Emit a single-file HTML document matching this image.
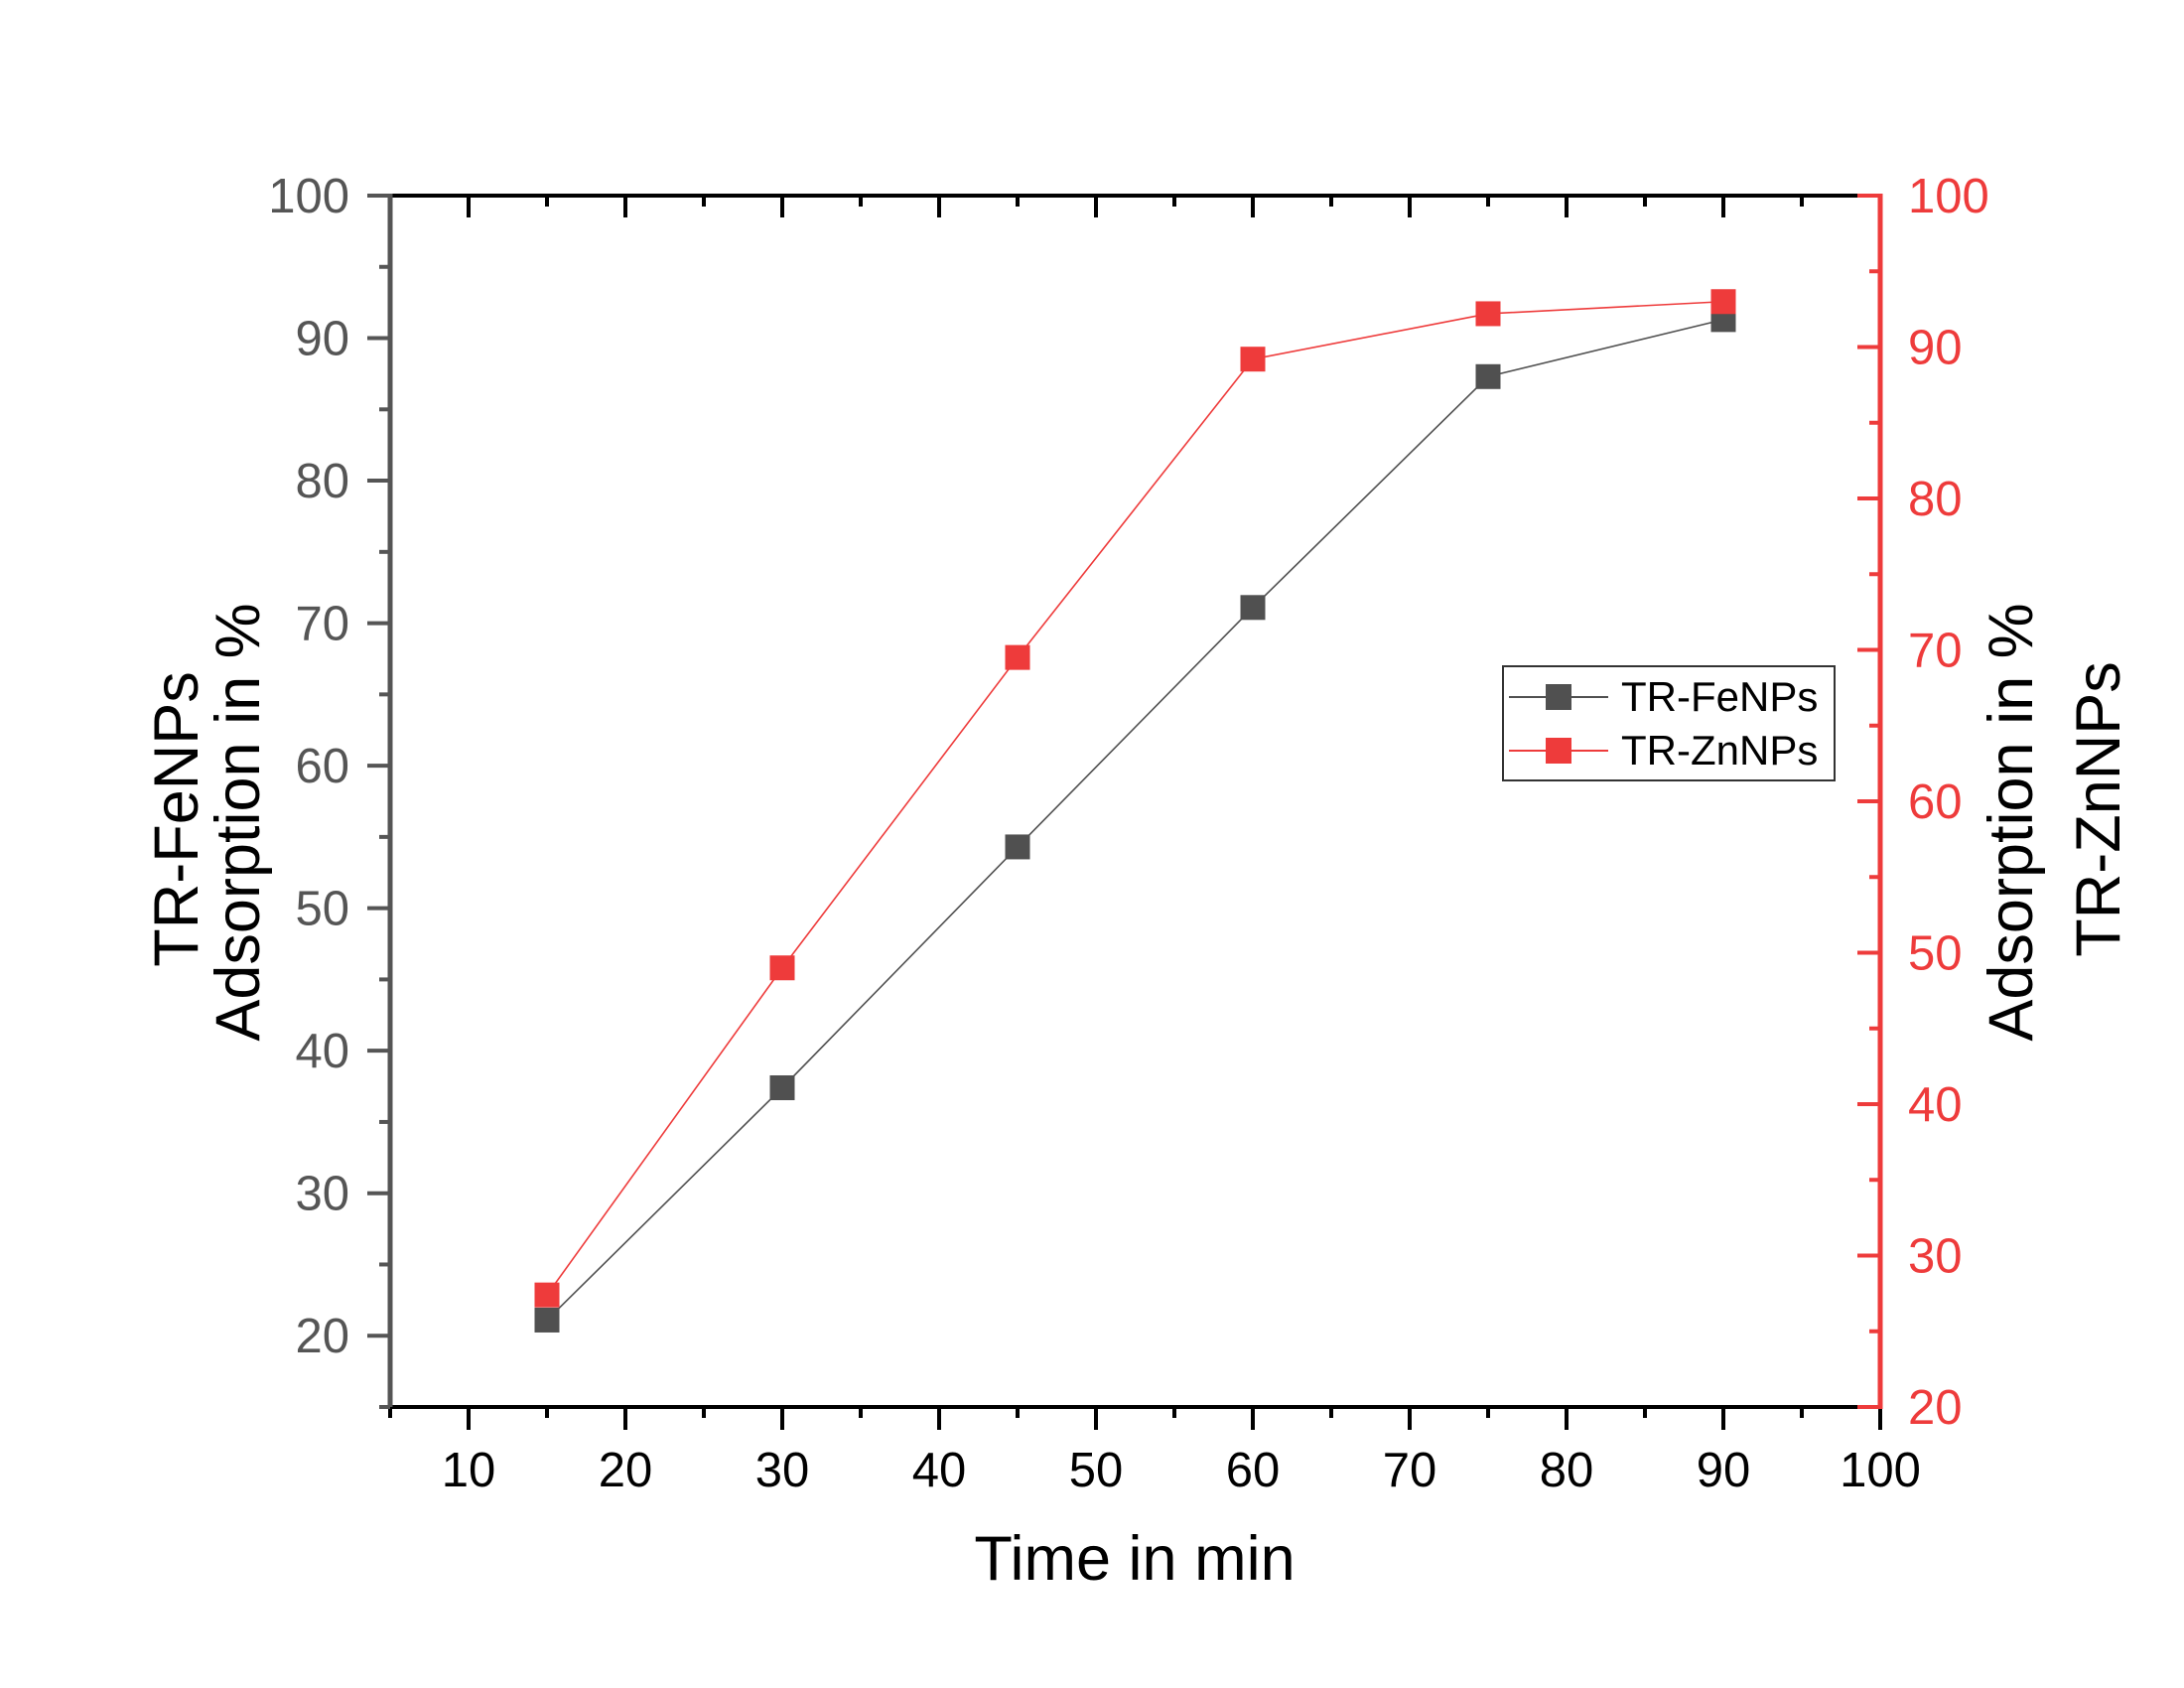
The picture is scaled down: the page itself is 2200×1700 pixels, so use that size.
<!DOCTYPE html>
<html><head><meta charset="utf-8"><style>
html,body{margin:0;padding:0;background:#fff}
svg{display:block;font-family:"Liberation Sans",Arial,sans-serif}
</style></head><body>
<svg id="chart" width="2200" height="1700" viewBox="0 0 2200 1700">
<g id="g"></g>
</svg>
<script>
const times = [15, 30, 45, 60, 75, 90];
const feValues = [21.1, 37.4, 54.3, 71.1, 87.3, 91.3];
const znValues = [27.4, 49.0, 69.5, 89.2, 92.2, 93.0];
const xTicks = [10, 20, 30, 40, 50, 60, 70, 80, 90, 100];
const leftTicks = [20, 30, 40, 50, 60, 70, 80, 90, 100];
const rightTicks = [20, 30, 40, 50, 60, 70, 80, 90, 100];

const L=393, R=1894, T=197, B=1417;
const x = v => L + (v-5)/(100-5)*(R-L);
const yl = v => B - (v-15)/(100-15)*(B-T);
const yr = v => B - (v-20)/(100-20)*(B-T);
const NS="http://www.w3.org/2000/svg";
const g=document.getElementById('g');
function el(tag, attrs, text){const e=document.createElementNS(NS,tag);for(const k in attrs)e.setAttribute(k,attrs[k]);if(text!==undefined)e.textContent=text;g.appendChild(e);return e;}

// top axis with inward ticks
let e=el('line',{x1:L,y1:T,x2:R,y2:T,stroke:'#000','stroke-width':4});


for(let v=10; v<=95; v+=5){
  const major=v%10===0;
  e=el('line',{x1:x(v),y1:T,x2:x(v),y2:T+(major?22:11),stroke:'#000','stroke-width':4});
  
  
}
// bottom axis
e=el('line',{x1:L,y1:B,x2:R,y2:B,stroke:'#000','stroke-width':4});


for(let v=5; v<=100; v+=5){
  const major=v%10===0;
  e=el('line',{x1:x(v),y1:B,x2:x(v),y2:B+(major?23:11),stroke:'#000','stroke-width':4});
  
  
}
xTicks.forEach(v=>{
  e=el('text',{x:x(v),y:1497,'font-size':49,'text-anchor':'middle',fill:'#000'},String(v));
  
  
});
// left axis
e=el('line',{x1:L,y1:T-2,x2:L,y2:B,stroke:'#555','stroke-width':5});


for(let v=15; v<=100; v+=5){
  const major=v%10===0;
  e=el('line',{x1:L,y1:yl(v),x2:L-(major?23:11),y2:yl(v),stroke:'#555','stroke-width':4});
  
  
}
leftTicks.forEach(v=>{
  e=el('text',{x:L-41,y:yl(v)+17,'font-size':49,'text-anchor':'end',fill:'#555'},String(v));
  
  
});
// right axis (inward ticks)
e=el('line',{x1:R,y1:T-2,x2:R,y2:B+2,stroke:'#ee3b3b','stroke-width':5});


for(let v=20; v<=100; v+=5){
  const major=v%10===0;
  e=el('line',{x1:R,y1:yr(v),x2:R-(major?23:11),y2:yr(v),stroke:'#ee3b3b','stroke-width':4});
  
  
}
rightTicks.forEach(v=>{
  e=el('text',{x:R+28,y:yr(v)+17,'font-size':49,'text-anchor':'start',fill:'#ee3b3b'},String(v));
  
  
});
// series
function series(vals, yf, color, name){
  e=el('polyline',{points:vals.map((v,i)=>x(times[i])+','+yf(v)).join(' '),fill:'none',stroke:color,'stroke-width':1.6});
  
  
  vals.forEach((v,i)=>{
    e=el('rect',{x:x(times[i])-12.5,y:yf(v)-12.5,width:25,height:25,fill:color});
    
    
  });
}
series(feValues, yl, '#505050', 'fe');
series(znValues, yr, '#ee3b3b', 'zn');

// legend
e=el('rect',{x:1514,y:671,width:334,height:115,fill:'#fff',stroke:'#333','stroke-width':2});


[['TR-FeNPs','#505050',702],['TR-ZnNPs','#ee3b3b',756]].forEach(([t,c,yy])=>{
  e=el('line',{x1:1520,y1:yy,x2:1620,y2:yy,stroke:c,'stroke-width':2});
  
  
  e=el('rect',{x:1557,y:yy-13,width:26,height:26,fill:c});
  
  
  e=el('text',{x:1633,y:yy+14,'font-size':42,fill:'#000'},t);
  
  
});

// titles
e=el('text',{x:1143,y:1591,'font-size':63,'text-anchor':'middle',fill:'#000'},'Time in min');


e=el('text',{x:0,y:0,'font-size':63,'text-anchor':'middle',fill:'#000',transform:'translate(199,825) rotate(-90)'},'TR-FeNPs');


e=el('text',{x:0,y:0,'font-size':63,'text-anchor':'middle',fill:'#000',transform:'translate(261,828) rotate(-90)'},'Adsorption in %');


e=el('text',{x:0,y:0,'font-size':63,'text-anchor':'middle',fill:'#000',transform:'translate(2047,828) rotate(-90)'},'Adsorption in %');


e=el('text',{x:0,y:0,'font-size':63,'text-anchor':'middle',fill:'#000',transform:'translate(2135,815) rotate(-90)'},'TR-ZnNPs');


</script>
</body></html>
